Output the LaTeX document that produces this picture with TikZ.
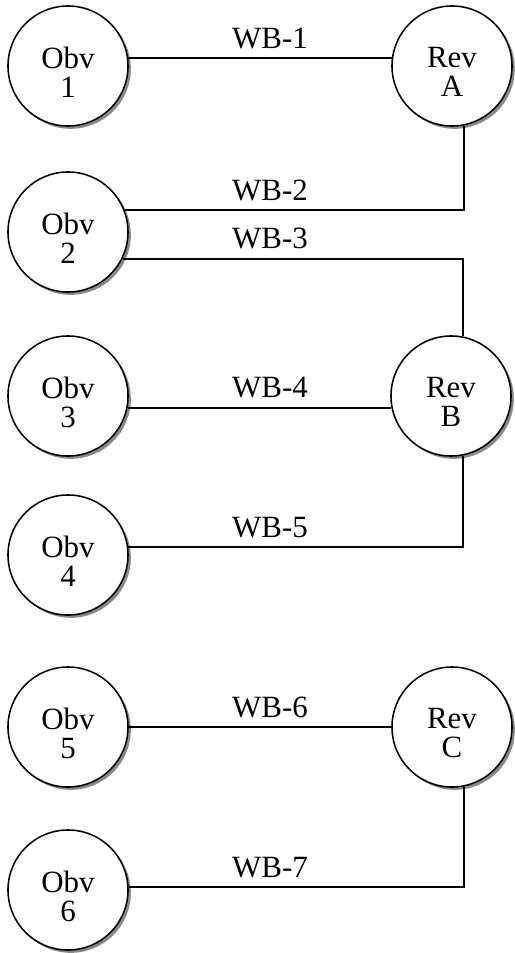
\documentclass[tikz,border=0pt]{standalone}
\usepackage{fontspec}
\setmainfont{Liberation Serif}
\usetikzlibrary{positioning, shadows}
\definecolor{wbline}{HTML}{000000}
\definecolor{wbshade}{HTML}{8A8A8A}
% two-line die face, set a little low as in the plate
\newcommand{\dieface}[2]{\raisebox{0.02cm}[\height][0pt]{\begin{tabular}{@{}c@{}}#1\\#2\end{tabular}}}

\begin{document}
\begin{tikzpicture}[x=0.025cm, y=-0.025cm,
    font=\fontsize{22}{21}\selectfont,
    coin/.style={circle, draw=wbline, line width=1.1pt, fill=white,
                 minimum size=3cm, inner sep=0pt,
                 drop shadow={shadow xshift=0.07cm, shadow yshift=-0.07cm,
                              fill=wbshade, opacity=1}},
    wire/.style={draw=wbline, line width=1.4pt},
    wblabel/.style={anchor=base, inner sep=0pt}]
    \useasboundingbox (0,0) rectangle (514,953);
    % obverse dies
    \node[coin] (o1) at (68,66)  {\dieface{Obv}{1}};
    \node[coin] (o2) at (68,232) {\dieface{Obv}{2}};
    \node[coin] (o3) at (68,396) {\dieface{Obv}{3}};
    \node[coin] (o4) at (68,555) {\dieface{Obv}{4}};
    \node[coin] (o5) at (68,727) {\dieface{Obv}{5}};
    \node[coin] (o6) at (68,890) {\dieface{Obv}{6}};
    % reverse dies
    \node[coin] (ra) at (452,66)  {\dieface{Rev}{A}};
    \node[coin] (rb) at (451,396) {\dieface{Rev}{B}};
    \node[coin] (rc) at (452,727) {\dieface{Rev}{C}};
    % die links
    \draw[wire] (o1.8) -- (ra.172);
    \draw[wire] (o2.21) -| (ra.-79);
    \draw[wire] (o2.-26) -| (rb.79);
    \draw[wire] (o3.-11) -- (rb.-169);
    \draw[wire] (o4.8) -| (rb.-79);
    \draw[wire] (o5) -- (rc);
    \draw[wire] (o6.3) -| (rc.-79);
    % labels
    \node[wblabel] (l1) at (270,49)  {WB-1};
    \node[wblabel] (l2) at (270,200) {WB-2};
    \node[wblabel] (l3) at (270,248) {WB-3};
    \node[wblabel] (l4) at (270,397) {WB-4};
    \node[wblabel] (l5) at (270,537) {WB-5};
    \node[wblabel] (l6) at (270,717) {WB-6};
    \node[wblabel] (l7) at (270,877) {WB-7};
\end{tikzpicture}
\end{document}
